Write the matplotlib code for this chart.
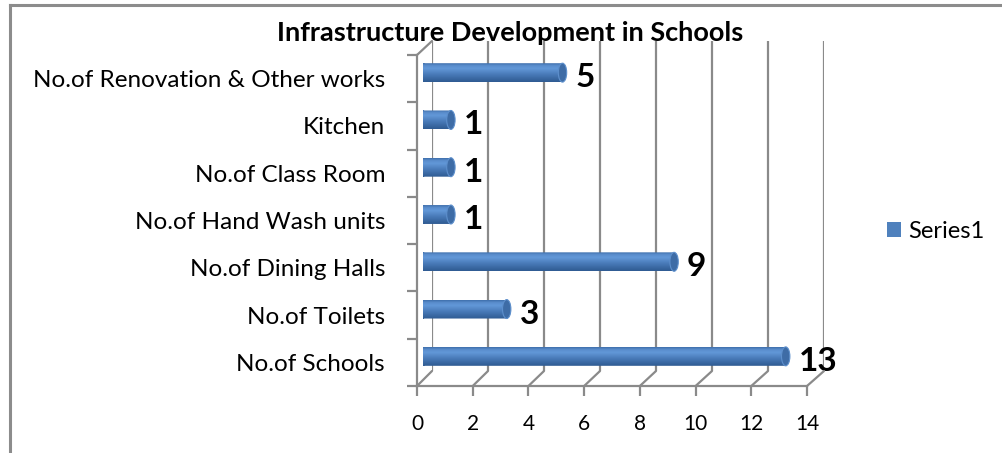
import matplotlib
matplotlib.use('Agg')
import matplotlib.pyplot as plt
import numpy as np
from matplotlib.patches import Ellipse, ConnectionPatch, Patch
from matplotlib.path import Path
from matplotlib.colors import LinearSegmentedColormap

# ---- data ----
categories = ["No.of Schools", "No.of Toilets", "No.of Dining Halls",
              "No.of Hand Wash units", "No.of Class Room", "Kitchen",
              "No.of Renovation & Other works"]
values = [13, 3, 9, 1, 1, 1, 5]
x_ticks = [0, 2, 4, 6, 8, 10, 12, 14]
series_name = "Series1"
title = "Infrastructure Development in Schools"

W, H = 1003, 453
plt.rcParams['font.family'] = ['Lato', 'DejaVu Sans']
fig = plt.figure(figsize=(W / 100, H / 100), dpi=100)


def rect(l, t, r, b):
    return [l / W, 1 - b / H, (r - l) / W, (b - t) / H]


GRID = '#8a8a8a'
LW = 1.6
n = len(categories)

# outer chart border (left and top visible)
fig.add_artist(plt.Line2D([10 / W, 10 / W], [0, 1 - 5 / H], color='#8c8c8c', lw=2.2,
                          transform=fig.transFigure))
fig.add_artist(plt.Line2D([10 / W, 1], [1 - 5 / H, 1 - 5 / H], color='#8c8c8c', lw=2.2,
                          transform=fig.transFigure))

# ---- back wall (gridlines) ----
axb = fig.add_axes(rect(432, 41, 824, 371))
axb.set_xlim(0, 14)
axb.set_ylim(0, 1)
axb.set_xticks(x_ticks)
axb.set_yticks([])
axb.grid(axis='x', color=GRID, lw=LW)
axb.tick_params(length=0, labelbottom=False)
for s in axb.spines.values():
    s.set_visible(False)
axb.patch.set_alpha(0)

# ---- front plane (axes, ticks, labels) ----
axf = fig.add_axes(rect(417, 55, 807, 386))
axf.set_xlim(0, 14)
axf.set_ylim(-0.5, n - 0.5)
axf.set_xticks(x_ticks)
axf.set_xticklabels([str(t) for t in x_ticks], fontsize=15)
axf.set_yticks(range(n))
axf.set_yticklabels(categories, fontsize=17.5)
axf.set_yticks(np.arange(-0.5, n), minor=True)
axf.tick_params(axis='y', which='major', length=0, pad=23)
axf.tick_params(axis='y', which='minor', length=7, color=GRID, width=LW)
axf.tick_params(axis='x', length=7, color=GRID, width=LW, pad=13)
for side in ['top', 'right']:
    axf.spines[side].set_visible(False)
for side in ['left', 'bottom']:
    axf.spines[side].set_color(GRID)
    axf.spines[side].set_linewidth(LW)
axf.patch.set_alpha(0)

# floor diagonals and left wall top edge
for t in x_ticks:
    fig.add_artist(ConnectionPatch(xyA=(t, -0.5), coordsA=axf.transData,
                                   xyB=(t, 0), coordsB=axb.transData,
                                   color=GRID, lw=LW))
fig.add_artist(ConnectionPatch(xyA=(0, n - 0.5), coordsA=axf.transData,
                               xyB=(0, 1), coordsB=axb.transData,
                               color=GRID, lw=LW))

# ---- middle plane: bars ----
axm = fig.add_axes(rect(423, 49, 813.6, 380))
axm.set_xlim(0, 14)
axm.set_ylim(-0.5, n - 0.5)
axm.axis('off')
axm.patch.set_alpha(0)

bh = 0.40
cap_w = 0.30
bars = axm.barh(range(n), values, height=bh, color='#4f81bd', lw=0)
cmap = LinearSegmentedColormap.from_list(
    'cyl', [(0.0, '#2f5b92'), (0.35, '#4576b3'), (0.72, '#6298d8'),
            (0.88, '#5a8dcc'), (1.0, '#3f6fac')])
grad = np.linspace(0, 1, 64).reshape(-1, 1)
for bar, v in zip(bars, values):
    y0 = bar.get_y()
    yc = y0 + bh / 2
    left = Ellipse((0, yc), cap_w, bh)
    verts = left.get_patch_transform().transform(Path.unit_circle().vertices)
    lp = Path(verts, Path.unit_circle().codes)
    rp = Path([(0, y0), (v, y0), (v, y0 + bh), (0, y0 + bh), (0, y0)],
              [Path.MOVETO, Path.LINETO, Path.LINETO, Path.LINETO, Path.CLOSEPOLY])
    clip = Path.make_compound_path(lp, rp)
    im = axm.imshow(grad, cmap=cmap, aspect='auto', origin='lower',
                    extent=[-cap_w / 2, v, y0, y0 + bh], zorder=2,
                    interpolation='bilinear')
    im.set_clip_path(clip, axm.transData)
    bar.set_visible(False)
    axm.add_patch(Ellipse((v, yc), cap_w, bh, facecolor='#3e6ca6',
                          edgecolor='#5d8fcc', lw=0.8, zorder=3))
    axm.annotate(str(v), (v, yc), xytext=(13, -5), textcoords='offset pixels',
                 ha='left', va='center', fontsize=24, fontweight='bold',
                 color='black', zorder=4)
axm.set_xlim(0, 14)
axm.set_ylim(-0.5, n - 0.5)

# ---- title ----
fig.text(510 / W, 1 - 33 / H, title, ha='center', va='center',
         fontsize=19.5, fontweight='bold')

# ---- legend ----
fig.legend(handles=[Patch(facecolor='#4f81bd', label=series_name)],
           loc='center left', bbox_to_anchor=(887 / W, 1 - 231 / H),
           frameon=False, fontsize=17, handlelength=0.58, handleheight=0.58,
           handletextpad=0.33, borderpad=0, borderaxespad=0)

fig.savefig('out.png', dpi=100)
